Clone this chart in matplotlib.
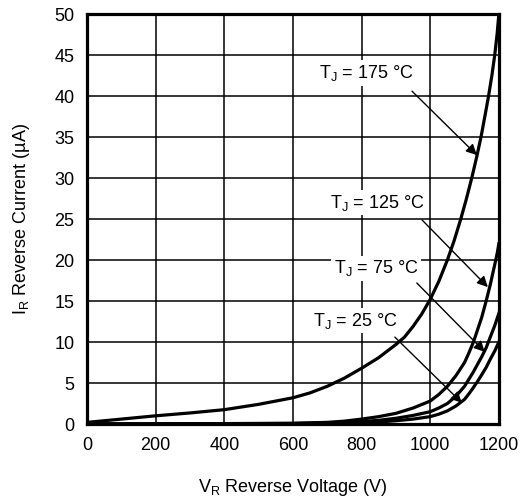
import matplotlib
matplotlib.use('Agg')
import matplotlib.pyplot as plt

plt.rcParams['font.family'] = ['Liberation Sans', 'DejaVu Sans']
plt.rcParams['mathtext.fontset'] = 'custom'
plt.rcParams['mathtext.rm'] = 'Liberation Sans'

# curvas (V, uA)
v_175 = [0, 50, 100, 200, 300, 400, 500, 600, 650, 700, 750, 800, 850, 875, 900, 925, 950, 975, 1000,
         1025, 1050, 1070, 1089, 1105, 1121, 1135, 1148, 1160, 1170, 1180, 1188, 1195, 1200]
i_175 = [0.2, 0.4, 0.6, 1.0, 1.35, 1.75, 2.4, 3.2, 3.8, 4.6, 5.6, 6.8, 8.1, 8.9, 9.7, 10.6, 11.9, 13.4, 15.2,
         17.4, 20, 22.4, 25, 27.4, 30, 32.5, 35, 37.7, 40, 42.6, 45, 47.6, 50]

v_125 = [0, 200, 400, 600, 700, 750, 800, 850, 900, 950, 1000, 1025, 1050, 1075, 1100,
         1113, 1126, 1138, 1150, 1163, 1175, 1183, 1191, 1196, 1200]
i_125 = [0, 0.02, 0.05, 0.1, 0.2, 0.35, 0.6, 0.9, 1.3, 1.95, 2.8, 3.6, 4.6, 5.9, 7.5,
         8.7, 10, 11.5, 13, 15, 17, 18.5, 20, 21, 22]

v_75 = [0, 600, 700, 800, 850, 900, 950, 1000, 1025, 1050, 1075, 1100, 1125, 1150,
        1163, 1175, 1188, 1200]
i_75 = [0, 0.05, 0.15, 0.3, 0.45, 0.7, 1.05, 1.5, 1.95, 2.5, 3.4, 4.6, 6.3, 8.2,
        9.3, 10.6, 12.0, 13.5]

v_25 = [0, 600, 700, 800, 850, 900, 950, 1000, 1025, 1050, 1075, 1100, 1113, 1125,
        1138, 1150, 1163, 1175, 1188, 1200]
i_25 = [0, 0.02, 0.07, 0.15, 0.25, 0.4, 0.6, 0.9, 1.2, 1.6, 2.2, 3.0, 3.7, 4.4,
        5.2, 6.0, 6.9, 7.9, 8.9, 10]

x_ticks = [0, 200, 400, 600, 800, 1000, 1200]
y_ticks = [0, 5, 10, 15, 20, 25, 30, 35, 40, 45, 50]

# etiquetas: texto, posicion del texto, inicio y punta de la flecha
etiquetas = ['175', '125', '75', '25']
pos_texto = [(813, 42.8), (845, 27.0), (842, 19.0), (781, 12.6)]
inicio_flecha = [(947, 40.6), (976, 24.9), (961, 17.2), (897, 10.6)]
punta_flecha = [(1136, 32.8), (1168, 16.7), (1159, 8.8), (1092, 2.6)]

fig = plt.figure(figsize=(5.29, 5.04), dpi=100)
ax = fig.add_axes([0.1645, 0.1587, 0.7785, 0.8133])

for v, i in [(v_175, i_175), (v_125, i_125), (v_75, i_75), (v_25, i_25)]:
    ax.plot(v, i, color='black', lw=2.3, zorder=3, solid_joinstyle='round')

ax.set_xlim(0, 1200)
ax.set_ylim(0, 50)
ax.set_xticks(x_ticks)
ax.set_yticks(y_ticks)
ax.grid(True, color='black', lw=1.1)
ax.tick_params(length=0, labelsize=13, pad=9)
for s in ax.spines.values():
    s.set_linewidth(2.3)

for t, p, a, b in zip(etiquetas, pos_texto, inicio_flecha, punta_flecha):
    ax.text(p[0], p[1], r'T$_\mathregular{J}$ = ' + t + ' °C', fontsize=13,
            ha='center', va='center', zorder=4,
            bbox=dict(facecolor='white', edgecolor='none', pad=2))
    ax.annotate('', xy=b, xytext=a, zorder=5,
                arrowprops=dict(arrowstyle='-|>', color='black', lw=1.0,
                                mutation_scale=16, shrinkA=0, shrinkB=0))

ax.set_xlabel(r'V$_\mathregular{R}$ Reverse Voltage (V)', fontsize=13, labelpad=17)
ax.set_ylabel(r'I$_\mathregular{R}$ Reverse Current (µA)', fontsize=13, labelpad=16)

fig.savefig('out.png', dpi=100)
